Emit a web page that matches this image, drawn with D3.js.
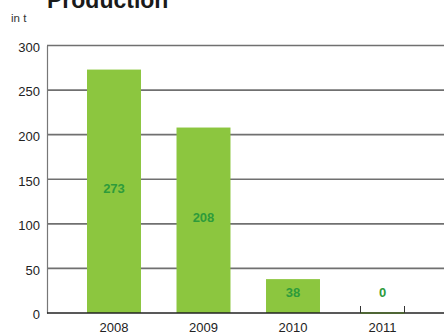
<!DOCTYPE html>
<html>
<head>
<meta charset="utf-8">
<script src="https://cdn.jsdelivr.net/npm/d3@7"></script>
<style>
  html, body { margin: 0; padding: 0; background: #fff; }
  svg { display: block; font-family: "Liberation Sans", Arial, Helvetica, sans-serif; }
</style>
</head>
<body>
<svg id="chart" width="444" height="333"></svg>
<script>
// Production volume per year, in tonnes
const years = ["2008", "2009", "2010", "2011"];
const production = [273, 208, 38, 0];
const yTicks = [0, 50, 100, 150, 200, 250, 300];

const W = 444, H = 333;
const margin = { left: 47, top: 45.5, bottom: 20 };
const svg = d3.select("#chart");

const x = d3.scaleBand()
  .domain(years)
  .range([margin.left, 449.5])
  .paddingInner(0.397)
  .paddingOuter(0.447);

const y = d3.scaleLinear()
  .domain([0, 300])
  .range([H - margin.bottom, margin.top]);

// Title and unit
svg.append("text")
  .attr("x", 47).attr("y", 7.5)
  .attr("font-size", 23).attr("font-weight", "bold")
  .attr("fill", "#1a1a1a")
  .text("Production");
svg.append("text")
  .attr("x", 11).attr("y", 21.5)
  .attr("font-size", 11.5).attr("fill", "#333")
  .text("in t");

// Horizontal grid lines
svg.append("g")
  .selectAll("line")
  .data(yTicks.filter(d => d > 0))
  .join("line")
  .attr("x1", margin.left).attr("x2", W)
  .attr("y1", d => y(d)).attr("y2", d => y(d))
  .attr("stroke", "#707070").attr("stroke-width", 1.6);

// Y axis
const yAxis = svg.append("g")
  .attr("transform", `translate(${margin.left},0)`)
  .call(d3.axisLeft(y).tickValues(yTicks).tickSize(0).tickPadding(7));
yAxis.select(".domain").attr("stroke", "#777").attr("stroke-width", 1.2);
yAxis.selectAll("text")
  .attr("font-size", 13).attr("fill", "#222")
  .attr("font-family", "Liberation Sans, Arial, sans-serif")
  .attr("dy", "0.45em");

// Small marks at the base of each bar
const baseMarks = svg.append("g");
years.forEach(yr => {
  const c = x(yr) + x.bandwidth() / 2;
  [c - 22, c + 22].forEach(px => {
    baseMarks.append("line")
      .attr("x1", px).attr("x2", px)
      .attr("y1", y(0)).attr("y2", y(0) - 7)
      .attr("stroke", "#333").attr("stroke-width", 1);
  });
});

// Bars
svg.append("g")
  .selectAll("rect")
  .data(production)
  .join("rect")
  .attr("x", (d, i) => x(years[i]))
  .attr("width", x.bandwidth())
  .attr("y", d => y(d))
  .attr("height", d => y(0) - y(d))
  .attr("fill", "#8cc63f");

// Base line
svg.append("line")
  .attr("x1", margin.left).attr("x2", W)
  .attr("y1", y(0)).attr("y2", y(0))
  .attr("stroke", "#222").attr("stroke-width", 1.5);

// Zero-height bar shown as a thin line on the base
svg.append("g")
  .selectAll("line")
  .data(production.map((v, i) => ({ v, yr: years[i] })).filter(d => d.v === 0))
  .join("line")
  .attr("x1", d => x(d.yr) + x.bandwidth() / 2 - 22)
  .attr("x2", d => x(d.yr) + x.bandwidth() / 2 + 22)
  .attr("y1", y(0)).attr("y2", y(0))
  .attr("stroke", "#4d6b2a").attr("stroke-width", 1.5);

// X axis labels
svg.append("g")
  .selectAll("text")
  .data(years)
  .join("text")
  .attr("x", d => x(d) + x.bandwidth() / 2)
  .attr("y", 331.5)
  .attr("text-anchor", "middle")
  .attr("font-size", 13).attr("fill", "#222")
  .text(d => d);

// Value labels, centred in the bar, kept clear of the base line
svg.append("g")
  .selectAll("text")
  .data(production)
  .join("text")
  .attr("x", (d, i) => x(years[i]) + x.bandwidth() / 2)
  .attr("y", d => Math.min(y(d / 2) + 1.5, y(0) - 16))
  .attr("text-anchor", "middle")
  .attr("font-size", 13).attr("font-weight", "bold")
  .attr("fill", "#2e9b3b")
  .text(d => d);
</script>
</body>
</html>
